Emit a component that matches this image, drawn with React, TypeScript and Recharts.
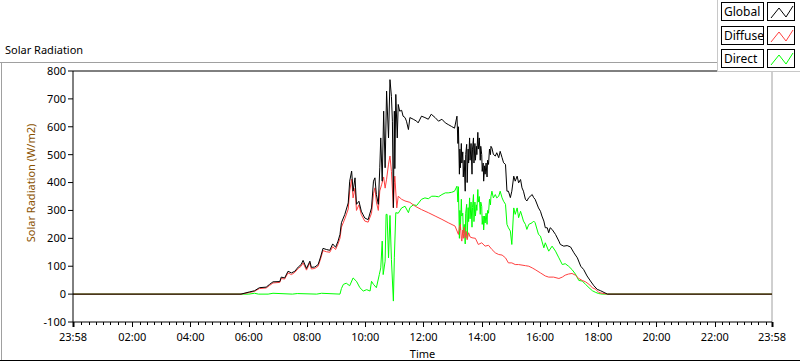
import React from 'react';
import { LineChart, Line, XAxis, YAxis, ReferenceLine } from 'recharts';

// time in minutes from midnight (-2 = 23:58 of previous day), values in W/m2
const GLOBAL_T = [
  -2, 344, 362, 372, 382, 396, 403, 410, 424, 427, 434, 441, 448, 455, 462, 468, 472, 479, 486, 489, 496, 503, 508, 513, 520, 527, 533, 539,
  544, 548, 551, 558, 565, 568, 572, 575, 579, 582, 587, 592, 599, 606, 613, 617, 620, 623, 627, 630, 632, 635, 638, 641, 644, 648, 651, 654, 656, 658, 660,
  661, 663, 666, 668, 671, 675, 678, 682, 685, 689, 692, 699, 706, 709, 716, 723, 730, 736, 744, 751, 758, 765, 771, 778, 784, 789,
  791, 792, 794, 795, 796, 798, 799, 801, 802, 804, 806, 807, 809, 810, 812, 813, 815, 816, 818, 820, 821, 823, 824, 826, 827, 829, 830, 832, 833, 835, 837, 838, 840, 841, 843, 844, 846, 847, 849, 851, 852, 854, 856, 858, 859,
  861, 864, 868, 871, 875, 878, 882, 885, 889, 892, 895, 899, 902, 906, 909, 913, 916, 920, 923, 926, 930, 933, 937, 944, 947,
  950, 957, 961, 964, 968, 971, 975, 978, 981, 985, 992, 999, 1002, 1009, 1016, 1023, 1030, 1037, 1044, 1050, 1057, 1064, 1071, 1078, 1085, 1092, 1099, 1438,
];
const GLOBAL_V = [
  0, 0, 8, 12, 23, 25, 35, 44, 45, 61, 58, 82, 76, 82, 97, 106, 121, 92, 118, 96, 97, 106, 133, 164, 160, 157, 180, 168,
  190, 214, 256, 286, 327, 405, 441, 369, 417, 322, 333, 297, 273, 267, 309, 405, 417, 357, 322, 453, 560, 405, 656, 453, 728, 560, 769, 709, 620, 310, 656,
  450, 716, 560, 680, 656, 659, 638, 633, 620, 590, 633, 627, 620, 614, 638, 633, 627, 645, 633, 620, 627, 614, 608, 601, 595, 638,
  540, 600, 430, 520, 453, 540, 470, 510, 420, 480, 369, 500, 537, 400, 520, 470, 560, 480, 540, 430, 520, 560, 470, 540, 480, 530, 500, 580, 520, 560, 480, 530, 500, 440, 470, 405, 460, 430, 470, 420, 480, 465, 520, 500, 530,
  524, 501, 495, 507, 489, 512, 489, 471, 465, 369, 369, 346, 369, 423, 405, 423, 399, 411, 381, 369, 340, 334, 346, 357, 346,
  340, 309, 297, 280, 262, 238, 238, 220, 238, 232, 214, 190, 178, 172, 174, 169, 148, 130, 100, 88, 65, 47, 30, 17, 12, 6, 0, 0,
];

const DIFFUSE_T = [
  -2, 344, 362, 372, 382, 396, 403, 410, 424, 427, 434, 441, 448, 455, 462, 468, 472, 479, 486, 489, 496, 503, 508, 513, 520, 527, 533, 539,
  544, 548, 551, 558, 565, 568, 572, 575, 579, 582, 587, 592, 599, 606, 613, 617, 620, 623, 627, 630, 634, 638, 641, 644, 648, 651, 654, 658, 660,
  661, 665, 668, 675, 682, 692, 703, 716, 730, 744, 758, 771, 785,
  792, 794, 796, 798, 799, 801, 802, 804, 806, 808, 810, 813, 816, 820,
  827, 833, 840, 847, 854, 861, 868, 875, 882, 889, 895, 902, 909, 916, 923, 930, 937, 944,
  950, 961, 971, 978, 988, 999, 1006, 1012, 1019, 1026, 1033, 1040, 1047, 1054, 1061, 1068, 1075, 1081, 1088, 1099, 1438,
];
const DIFFUSE_V = [
  0, 0, 6, 10, 20, 22, 31, 40, 42, 56, 54, 76, 70, 78, 92, 100, 112, 86, 112, 90, 92, 100, 126, 156, 152, 150, 170, 160,
  180, 200, 240, 270, 305, 370, 412, 345, 380, 300, 320, 285, 262, 258, 290, 360, 381, 330, 300, 370, 394, 420, 380, 412, 466, 495, 440, 309, 400,
  423, 309, 351, 340, 334, 329, 315, 303, 292, 280, 268, 256, 244,
  214, 240, 250, 200, 190, 230, 200, 240, 202, 225, 195, 220, 205, 202,
  200, 178, 184, 172, 175, 160, 148, 142, 140, 130, 112, 112, 106, 106, 104, 102, 100, 94,
  88, 76, 65, 61, 61, 56, 61, 68, 72, 74, 68, 56, 49, 44, 35, 23, 17, 6, 3, 0, 0,
];

const DIRECT_T = [
  -2, 360, 372, 380, 400, 410, 450, 460, 500, 510, 548, 551, 555, 561, 568, 575, 582, 589, 596, 603, 610, 613, 617, 623,
  629, 632, 635, 637, 641, 643, 645, 648, 651, 654, 658, 660, 663, 668, 675, 682, 689, 692, 699, 706, 716, 723, 730, 737, 744, 751, 758, 765, 771, 778, 784, 789,
  791, 792, 794, 795, 796, 798, 799, 801, 802, 804, 806, 807, 809, 810, 812, 813, 815, 816, 818, 820, 821, 823, 824, 826, 827, 829, 830, 832, 833, 835, 837, 838, 840, 841, 843, 844, 846, 847, 849, 851, 852, 854, 856, 858, 859,
  861, 864, 868, 871, 875, 878, 882, 885, 889, 892, 895, 899, 902, 906, 909, 913, 916, 920, 923, 926, 930, 933, 937, 944, 947,
  950, 957, 961, 964, 968, 971, 978, 985, 992, 999, 1006, 1012, 1019, 1026, 1033, 1040, 1047, 1054, 1061, 1068, 1075, 1081, 1088, 1438,
];
const DIRECT_V = [
  0, 0, 3, 0, 0, 3, 0, 2, 0, 3, 0, 20, 35, 39, 30, 58, 46, 23, 11, 16, 11, 46, 35, 23,
  70, 94, 190, 70, 118, 286, 286, 130, 282, 124, -25, 130, 292, 290, 309, 315, 292, 310, 320, 318, 340, 345, 342, 351, 351, 349, 357, 363, 363, 365, 369, 387,
  330, 385, 200, 300, 230, 340, 280, 290, 220, 250, 180, 290, 322, 200, 310, 260, 345, 270, 330, 240, 310, 357, 260, 330, 280, 320, 300, 375, 330, 350, 286, 330, 315, 250, 280, 230, 280, 255, 290, 250, 300, 290, 340, 320, 350,
  369, 345, 357, 345, 351, 369, 345, 333, 322, 250, 238, 226, 178, 309, 286, 309, 274, 297, 280, 262, 250, 232, 250, 256, 262,
  256, 214, 208, 190, 166, 184, 154, 172, 154, 130, 106, 109, 100, 88, 72, 49, 47, 35, 23, 12, 6, 2, 0, 0,
];

const Y_TICKS = [-100, 0, 100, 200, 300, 400, 500, 600, 700, 800];
const MAJOR_TICKS = [-2, 120, 240, 360, 480, 600, 720, 840, 960, 1080, 1200, 1320, 1438];
const MINOR_STEP = 15;

const SERIES = [
  { name: 'Direct', color: '#00ff00', t: DIRECT_T, v: DIRECT_V },
  { name: 'Diffuse', color: '#ff4040', t: DIFFUSE_T, v: DIFFUSE_V },
  { name: 'Global', color: '#000000', t: GLOBAL_T, v: GLOBAL_V },
];
const LEGEND_ORDER = ['Global', 'Diffuse', 'Direct'];

const FONT = "'Noto Sans', sans-serif";

const allTicks: number[] = [...MAJOR_TICKS];
for (let m = MINOR_STEP; m < 1438; m += MINOR_STEP) {
  if (!MAJOR_TICKS.includes(m)) allTicks.push(m);
}
allTicks.sort((a, b) => a - b);

function fmt(m: number) {
  const mm = ((m % 1440) + 1440) % 1440;
  const h = Math.floor(mm / 60);
  const min = mm % 60;
  return `${String(h).padStart(2, '0')}:${String(min).padStart(2, '0')}`;
}

function TimeTick(props: any) {
  const { x, y, payload } = props;
  const v = payload.value;
  const major = MAJOR_TICKS.includes(v);
  const edge = v === -2 || v === 1438;
  const px = Math.round(x) + 0.5;
  return (
    <g>
      <line x1={px} x2={px} y1={y} y2={y + (major ? 5 : 3)} stroke="#000" strokeWidth={edge ? 2 : 1} />
      {major && (
        <text x={x} y={y + 19} textAnchor="middle" fontSize={11} fontFamily={FONT} fill="#000">
          {fmt(v)}
        </text>
      )}
    </g>
  );
}

function Swatch({ color }: { color: string }) {
  return (
    <svg width={27} height={18} style={{ display: 'block' }}>
      <polyline points="3,15 11,5 18,14 25,3" fill="none" stroke={color} strokeWidth={1} />
    </svg>
  );
}

export default function App() {
  return (
    <div style={{ position: 'absolute', left: 0, top: 0, width: 800, height: 361, background: '#fff', overflow: 'hidden', fontFamily: FONT }}>
      <LineChart width={800} height={361} margin={{ top: 71, right: 28, bottom: 0, left: 0 }}>
        <XAxis
          dataKey="t"
          type="number"
          domain={[-2, 1438]}
          allowDataOverflow
          ticks={allTicks}
          interval={0}
          tick={TimeTick}
          tickLine={false}
          tickSize={0}
          tickMargin={0}
          height={39}
          axisLine={{ stroke: '#000' }}
          label={{ value: 'Time', position: 'insideBottom', offset: 3, fontSize: 11, fill: '#000', fontFamily: FONT }}
        />
        <YAxis
          type="number"
          domain={[-100, 800]}
          ticks={Y_TICKS}
          interval={0}
          width={73}
          tickSize={5}
          tickMargin={2}
          axisLine={{ stroke: '#000' }}
          tickLine={{ stroke: '#000' }}
          tick={{ fontSize: 11, fill: '#000', fontFamily: FONT }}
        />
        <ReferenceLine y={800} stroke="#000" />
        <ReferenceLine x={1438} stroke="#a0a0a0" />
        {SERIES.map((s) => (
          <Line
            key={s.name}
            data={s.t.slice(0, s.v.length).map((t, i) => ({ t, v: s.v[i] }))}
            dataKey="v"
            name={s.name}
            stroke={s.color}
            strokeWidth={1}
            dot={false}
            activeDot={false}
            isAnimationActive={false}
            type="linear"
          />
        ))}
      </LineChart>

      <svg width={800} height={361} style={{ position: 'absolute', left: 0, top: 0, pointerEvents: 'none' }}>
        <text x={30} y={183} transform="rotate(-90 30 183)" textAnchor="middle" dominantBaseline="central" fontSize={11} fill="#8a5200" fontFamily={FONT}>
          Solar Radiation (W/m2)
        </text>
        <text x={5} y={54} fontSize={11} fill="#000" fontFamily={FONT}>Solar Radiation</text>
        <line x1={0} x2={717} y1={62.5} y2={62.5} stroke="#a0a0a0" />
        <line x1={1.5} x2={1.5} y1={62} y2={361} stroke="#a0a0a0" />
        <line x1={0} x2={800} y1={360.5} y2={360.5} stroke="#000" />
      </svg>

      <div style={{ position: 'absolute', left: 717, top: 0, width: 83, height: 72, background: '#fff', borderLeft: '1px solid #c8c8c8', borderBottom: '1px solid #c8c8c8', boxSizing: 'border-box' }}>
        {LEGEND_ORDER.map((name, i) => {
          const s = SERIES.find((x) => x.name === name)!;
          return (
            <div key={name} style={{ position: 'absolute', left: 3, top: 2 + i * 23.5, display: 'flex', gap: 3 }}>
              <div style={{ width: 43, height: 19, border: '1px solid #000', boxSizing: 'border-box', fontSize: 12, lineHeight: '17px', paddingLeft: 2, color: '#000' }}>
                {name}
              </div>
              <div style={{ width: 28, height: 19, border: '1px solid #000', boxSizing: 'border-box' }}>
                <Swatch color={s.color} />
              </div>
            </div>
          );
        })}
      </div>
    </div>
  );
}
